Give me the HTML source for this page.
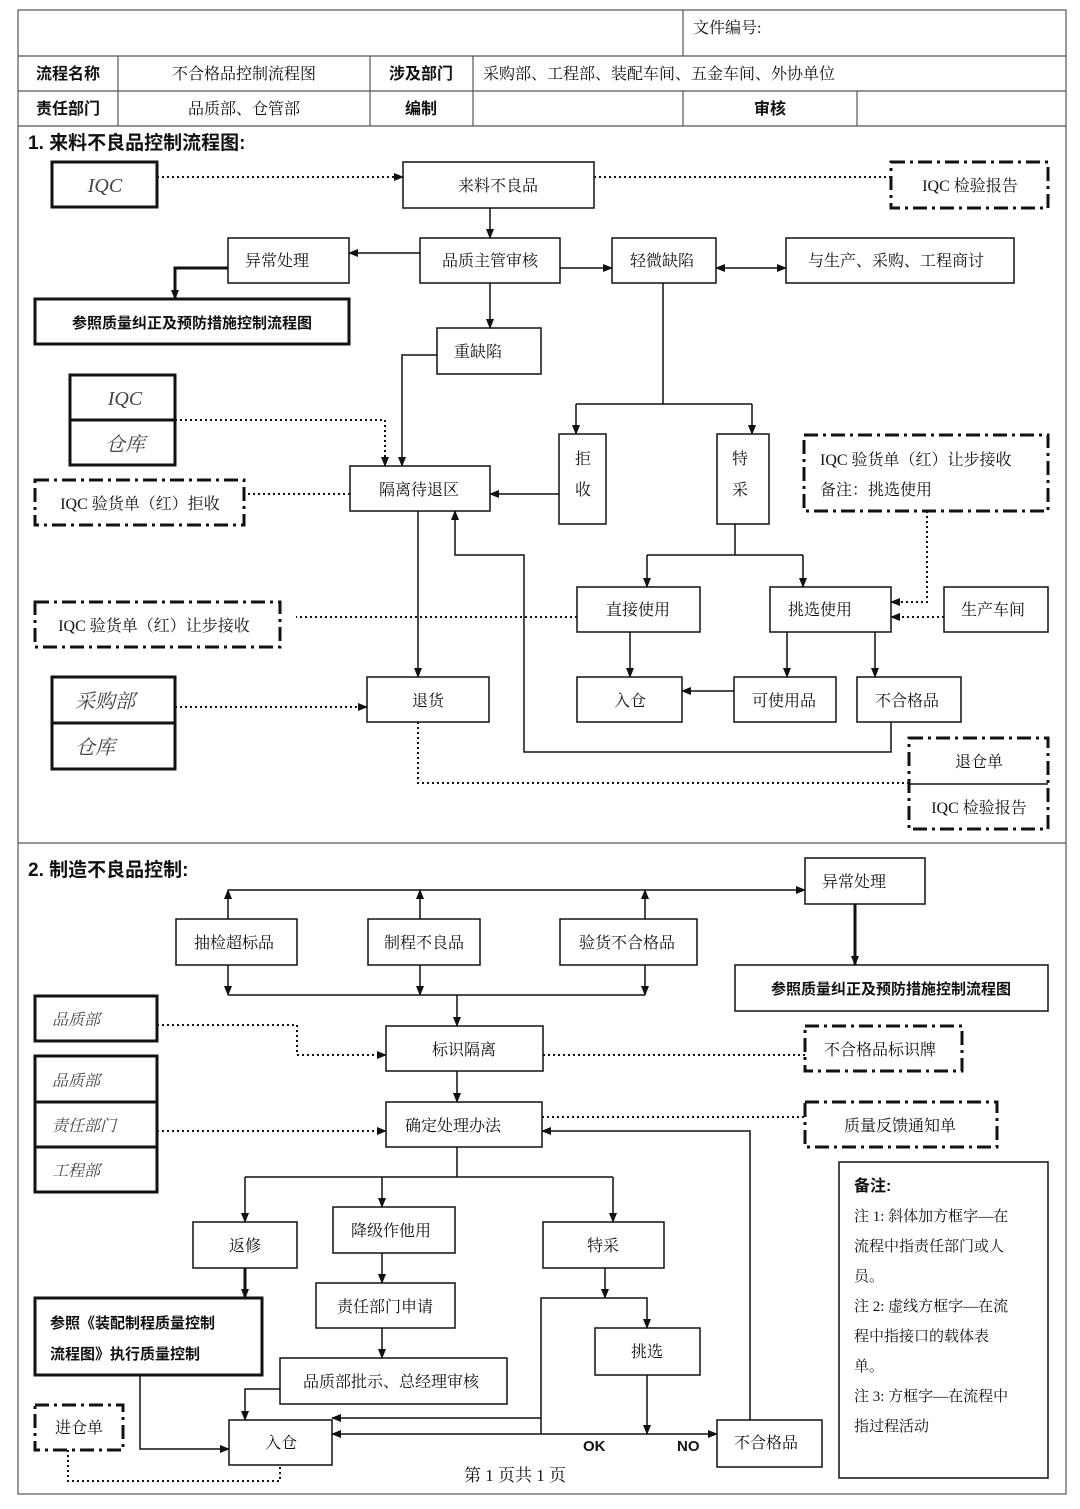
<!DOCTYPE html>
<html><head><meta charset="utf-8"><style>
body{margin:0;background:#fff}
svg{display:block}
text{font-family:"Liberation Serif","Noto Serif CJK SC",serif;font-size:16px;fill:#111}
.b{font-family:"Liberation Sans","Noto Sans CJK SC",sans-serif;font-weight:bold}
.i{font-style:italic;font-size:20px;fill:#444}
</style></head><body>
<svg width="1080" height="1509" viewBox="0 0 1080 1509" xmlns="http://www.w3.org/2000/svg">
<defs>
<marker id="a" markerWidth="10" markerHeight="10" refX="9" refY="5" orient="auto" markerUnits="userSpaceOnUse"><path d="M0,1 L10,5 L0,9z" fill="#111"/></marker>
<marker id="s" markerWidth="10" markerHeight="10" refX="1" refY="5" orient="auto" markerUnits="userSpaceOnUse"><path d="M10,1 L0,5 L10,9z" fill="#111"/></marker>
</defs>
<g fill="none" stroke="#555" stroke-width="1.2">
<rect x="18" y="10" width="1048" height="1484"/>
<line x1="683" y1="10" x2="683" y2="56"/>
<line x1="18" y1="56" x2="1066" y2="56"/><line x1="18" y1="91" x2="1066" y2="91"/><line x1="18" y1="126" x2="1066" y2="126"/>
<line x1="118" y1="56" x2="118" y2="126"/><line x1="370" y1="56" x2="370" y2="126"/><line x1="473" y1="56" x2="473" y2="126"/>
<line x1="683" y1="91" x2="683" y2="126"/><line x1="857" y1="91" x2="857" y2="126"/>
<line x1="18" y1="843" x2="1066" y2="843"/>
</g>
<text x="693" y="33">文件编号:</text>
<text class="b" x="68" y="79" text-anchor="middle">流程名称</text>
<text x="244" y="79" text-anchor="middle">不合格品控制流程图</text>
<text class="b" x="421" y="79" text-anchor="middle">涉及部门</text>
<text x="483" y="79">采购部、工程部、装配车间、五金车间、外协单位</text>
<text class="b" x="68" y="114" text-anchor="middle">责任部门</text>
<text x="244" y="114" text-anchor="middle">品质部、仓管部</text>
<text class="b" x="421" y="114" text-anchor="middle">编制</text>
<text class="b" x="770" y="114" text-anchor="middle">审核</text>
<text class="b" x="28" y="149" style="font-size:19px">1. 来料不良品控制流程图:</text>
<text class="b" x="28" y="876" style="font-size:19px">2. 制造不良品控制:</text>

<g fill="none" stroke="#111" stroke-width="1.5">
<rect x="403" y="162" width="191" height="46"/>
<rect x="420" y="238" width="140" height="45"/>
<rect x="228" y="238" width="121" height="45"/>
<rect x="612" y="238" width="104" height="45"/>
<rect x="786" y="238" width="228" height="45"/>
<rect x="437" y="328" width="104" height="46"/>
<rect x="350" y="466" width="140" height="45"/>
<rect x="559" y="434" width="47" height="90"/>
<rect x="717" y="434" width="52" height="90"/>
<rect x="577" y="587" width="123" height="45"/>
<rect x="770" y="587" width="121" height="45"/>
<rect x="944" y="587" width="104" height="45"/>
<rect x="367" y="677" width="122" height="45"/>
<rect x="577" y="677" width="105" height="45"/>
<rect x="734" y="677" width="102" height="45"/>
<rect x="857" y="677" width="104" height="45"/>
<rect x="805" y="858" width="120" height="46"/>
<rect x="176" y="919" width="121" height="46"/>
<rect x="368" y="919" width="112" height="46"/>
<rect x="560" y="919" width="137" height="46"/>
<rect x="386" y="1026" width="157" height="45"/>
<rect x="386" y="1102" width="156" height="45"/>
<rect x="193" y="1222" width="104" height="46"/>
<rect x="333" y="1207" width="122" height="46"/>
<rect x="543" y="1222" width="121" height="46"/>
<rect x="316" y="1283" width="139" height="45"/>
<rect x="280" y="1358" width="227" height="46"/>
<rect x="595" y="1328" width="105" height="47"/>
<rect x="229" y="1420" width="103" height="45"/>
<rect x="717" y="1420" width="105" height="47"/>
<rect x="839" y="1162" width="209" height="316"/>
<rect x="735" y="965" width="313" height="46"/>
</g>
<g fill="none" stroke="#111" stroke-width="3">
<rect x="52" y="162" width="105" height="45"/>
<rect x="35" y="299" width="314" height="45"/>
<rect x="70" y="375" width="105" height="90"/><line x1="70" y1="420" x2="175" y2="420"/>
<rect x="52" y="677" width="123" height="92"/><line x1="52" y1="723" x2="175" y2="723"/>
<rect x="35" y="996" width="122" height="45"/>
<rect x="35" y="1056" width="122" height="136"/><line x1="35" y1="1102" x2="157" y2="1102"/><line x1="35" y1="1147" x2="157" y2="1147"/>
<rect x="35" y="1298" width="227" height="77"/>
</g>
<g fill="none" stroke="#111" stroke-width="3" stroke-dasharray="14 5 3 5">
<rect x="891" y="162" width="157" height="46"/>
<rect x="804" y="435" width="244" height="76"/>
<rect x="35" y="480" width="209" height="45"/>
<rect x="35" y="602" width="245" height="45"/>
<rect x="909" y="738" width="139" height="91"/>
<rect x="805" y="1026" width="157" height="45"/>
<rect x="805" y="1102" width="192" height="45"/>
<rect x="35" y="1405" width="88" height="45"/>
</g>
<line x1="909" y1="784" x2="1048" y2="784" stroke="#111" stroke-width="1.5"/>

<g fill="none" stroke="#111" stroke-width="1.5">
<path d="M490,208V238" marker-end="url(#a)"/>
<path d="M420,253H349" marker-end="url(#a)"/>
<path d="M560,268H612" marker-end="url(#a)"/>
<path d="M716,268H786" marker-end="url(#a)" marker-start="url(#s)"/>
<path d="M490,283V328" marker-end="url(#a)"/>
<path d="M437,355H402V466" marker-end="url(#a)"/>
<path d="M663,283V404"/><path d="M576,404H752"/>
<path d="M576,404V434" marker-end="url(#a)"/><path d="M752,404V434" marker-end="url(#a)"/>
<path d="M559,494H490" marker-end="url(#a)"/>
<path d="M735,524V555"/><path d="M647,555H803"/>
<path d="M647,555V587" marker-end="url(#a)"/><path d="M803,555V587" marker-end="url(#a)"/>
<path d="M418,511V677" marker-end="url(#a)"/>
<path d="M630,632V677" marker-end="url(#a)"/>
<path d="M787,632V677" marker-end="url(#a)"/>
<path d="M875,632V677" marker-end="url(#a)"/>
<path d="M734,691H682" marker-end="url(#a)"/>
<path d="M891,722V752H524V555H455V511" marker-end="url(#a)"/>
<path d="M228,890H805" marker-end="url(#a)"/>
<path d="M228,919V890" marker-end="url(#a)"/><path d="M420,919V890" marker-end="url(#a)"/><path d="M645,919V890" marker-end="url(#a)"/>
<path d="M228,965V995" marker-end="url(#a)"/><path d="M420,965V995" marker-end="url(#a)"/><path d="M645,965V995" marker-end="url(#a)"/>
<path d="M228,995H645"/>
<path d="M457,995V1026" marker-end="url(#a)"/>
<path d="M457,1071V1102" marker-end="url(#a)"/>
<path d="M750,1420V1131H542" marker-end="url(#a)"/>
<path d="M457,1147V1177"/><path d="M245,1177H613"/>
<path d="M245,1177V1222" marker-end="url(#a)"/><path d="M382,1177V1207" marker-end="url(#a)"/><path d="M613,1177V1222" marker-end="url(#a)"/>
<path d="M382,1253V1283" marker-end="url(#a)"/>
<path d="M382,1328V1358" marker-end="url(#a)"/>
<path d="M280,1389H245V1420" marker-end="url(#a)"/>
<path d="M140,1375V1449H229" marker-end="url(#a)"/>
<path d="M605,1268V1298" marker-end="url(#a)"/>
<path d="M541,1434V1298H647V1328" marker-end="url(#a)"/>
<path d="M647,1375V1434" marker-end="url(#a)"/>
<path d="M541,1418H332" marker-end="url(#a)"/>
<path d="M332,1434H717" marker-end="url(#a)" marker-start="url(#s)"/>
</g>
<g fill="none" stroke="#111" stroke-width="3">
<path d="M228,268H175V299" marker-end="url(#a)"/>
<path d="M855,904V965" marker-end="url(#a)"/>
<path d="M245,1268V1298" marker-end="url(#a)"/>
</g>
<g fill="none" stroke="#111" stroke-width="2" stroke-dasharray="2 3">
<path d="M157,177H403" marker-end="url(#a)"/>
<path d="M594,177H891"/>
<path d="M175,420H385V466" marker-end="url(#a)"/>
<path d="M350,494H244"/>
<path d="M927,511V602H891" marker-end="url(#a)"/>
<path d="M944,617H891" marker-end="url(#a)"/>
<path d="M577,617H296"/>
<path d="M175,707H367" marker-end="url(#a)"/>
<path d="M418,722V783H909"/>
<path d="M157,1025H297V1055H386" marker-end="url(#a)"/>
<path d="M543,1055H805"/>
<path d="M157,1131H386" marker-end="url(#a)"/>
<path d="M542,1117H805"/>
<path d="M68,1450V1481H280V1465"/>
</g>

<g text-anchor="middle">
<text class="i" x="105" y="192">IQC</text>
<text x="498" y="191">来料不良品</text>
<text x="970" y="191">IQC 检验报告</text>
<text x="490" y="266">品质主管审核</text>
<text x="277" y="266">异常处理</text>
<text x="662" y="266">轻微缺陷</text>
<text x="896" y="266">与生产、采购、工程商讨</text>
<text class="b" x="192" y="328" style="font-size:15px">参照质量纠正及预防措施控制流程图</text>
<text x="478" y="357">重缺陷</text>
<text class="i" x="125" y="405">IQC</text>
<text class="i" x="125" y="451">仓库</text>
<text x="419" y="495">隔离待退区</text>
<text x="583" y="464">拒</text><text x="583" y="495">收</text>
<text x="740" y="464">特</text><text x="740" y="495">采</text>
<text x="140" y="509">IQC 验货单（红）拒收</text>
<text x="638" y="615">直接使用</text>
<text x="820" y="615">挑选使用</text>
<text x="993" y="615">生产车间</text>
<text x="154" y="631">IQC 验货单（红）让步接收</text>
<text class="i" x="105" y="708">采购部</text>
<text class="i" x="95" y="754">仓库</text>
<text x="428" y="706">退货</text>
<text x="630" y="706">入仓</text>
<text x="784" y="706">可使用品</text>
<text x="907" y="706">不合格品</text>
<text x="979" y="767">退仓单</text>
<text x="979" y="813">IQC 检验报告</text>
<text x="854" y="887">异常处理</text>
<text x="234" y="948">抽检超标品</text>
<text x="424" y="948">制程不良品</text>
<text x="627" y="948">验货不合格品</text>
<text class="b" x="891" y="994" style="font-size:15px">参照质量纠正及预防措施控制流程图</text>
<text x="464" y="1055">标识隔离</text>
<text x="880" y="1055">不合格品标识牌</text>
<text x="453" y="1131">确定处理办法</text>
<text x="900" y="1131">质量反馈通知单</text>
<text x="245" y="1251">返修</text>
<text x="391" y="1236">降级作他用</text>
<text x="603" y="1251">特采</text>
<text x="385" y="1312">责任部门申请</text>
<text x="391" y="1387">品质部批示、总经理审核</text>
<text x="647" y="1357">挑选</text>
<text x="281" y="1448">入仓</text>
<text x="766" y="1448">不合格品</text>
<text x="79" y="1433">进仓单</text>
<text x="515" y="1481" style="font-size:17px">第 1 页共 1 页</text>
</g>
<text x="820" y="465">IQC 验货单（红）让步接收</text>
<text x="820" y="495">备注：挑选使用</text>
<text class="i" x="52" y="1025" style="font-size:16px">品质部</text>
<text class="i" x="52" y="1086" style="font-size:16px">品质部</text>
<text class="i" x="52" y="1131" style="font-size:16px">责任部门</text>
<text class="i" x="52" y="1176" style="font-size:16px">工程部</text>
<text class="b" x="50" y="1328" style="font-size:15px">参照《装配制程质量控制</text>
<text class="b" x="50" y="1359" style="font-size:15px">流程图》执行质量控制</text>
<text class="b" x="583" y="1451" style="font-size:15px">OK</text>
<text class="b" x="677" y="1451" style="font-size:15px">NO</text>
<text class="b" x="854" y="1191">备注:</text>
<text x="854" y="1221" style="font-size:15px">注 1: 斜体加方框字—在</text>
<text x="854" y="1251" style="font-size:15px">流程中指责任部门或人</text>
<text x="854" y="1281" style="font-size:15px">员。</text>
<text x="854" y="1311" style="font-size:15px">注 2: 虚线方框字—在流</text>
<text x="854" y="1341" style="font-size:15px">程中指接口的载体表</text>
<text x="854" y="1371" style="font-size:15px">单。</text>
<text x="854" y="1401" style="font-size:15px">注 3: 方框字—在流程中</text>
<text x="854" y="1431" style="font-size:15px">指过程活动</text>
</svg>
</body></html>
